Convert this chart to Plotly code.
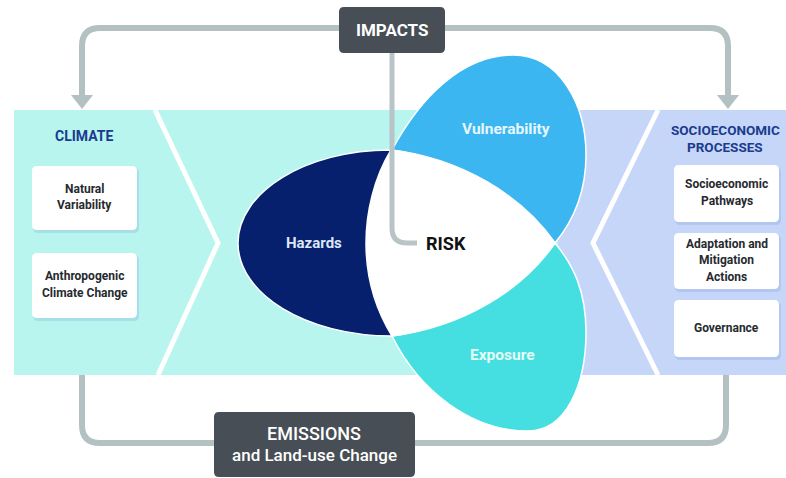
import plotly.graph_objects as go

# ---- diagram content ----
climate_title = "CLIMATE"
climate_boxes = ["Natural<br>Variability", "Anthropogenic<br>Climate Change"]
socio_title = "SOCIOECONOMIC<br>PROCESSES"
socio_boxes = ["Socioeconomic<br>Pathways", "Adaptation and<br>Mitigation<br>Actions", "Governance"]
petal_labels = ["Hazards", "Vulnerability", "Exposure"]
center_label = "RISK"
top_label = "IMPACTS"
bottom_label = ["EMISSIONS", "and Land-use Change"]

W, H = 786, 478
FONT = "Roboto"
CYAN_BAND = "#b8f5ef"
LAV_BAND = "#c6d6f8"
NAVY = "#06206e"
VULN = "#3bb6f1"
EXPO = "#45dfe1"
DARK = "#474e56"
ARROW = "#b3c1c2"

shapes = []


def add_path(path, fill=None, line_color=None, line_width=0):
    d = dict(type="path", path=path, xref="x", yref="y", layer="above")
    d["fillcolor"] = fill if fill else "rgba(0,0,0,0)"
    d["line"] = dict(color=line_color or "rgba(0,0,0,0)", width=line_width)
    shapes.append(d)


def rrect(x0, y0, x1, y1, r):
    return (f"M {x0+r},{y0} L {x1-r},{y0} Q {x1},{y0} {x1},{y0+r} "
            f"L {x1},{y1-r} Q {x1},{y1} {x1-r},{y1} L {x0+r},{y1} "
            f"Q {x0},{y1} {x0},{y1-r} L {x0},{y0+r} Q {x0},{y0} {x0+r},{y0} Z")


# ---- feedback arrows (drawn first, below bands) ----
add_path("M 82,97 L 82,46 Q 82,28 100,28 L 710,28 Q 728,28 728,46 L 728,97",
         line_color=ARROW, line_width=6)
add_path("M 71,95 L 93,95 L 82,109 Z", fill=ARROW)
add_path("M 717,95 L 739,95 L 728,109 Z", fill=ARROW)
add_path("M 82,332 L 82,425 Q 82,443 100,443 L 708,443 Q 726,443 726,425 L 726,372",
         line_color=ARROW, line_width=6)
add_path("M 71,335 L 93,335 L 82,320 Z", fill=ARROW)

# ---- background bands ----
add_path("M 14,110 L 560,110 L 560,375 L 14,375 Z", fill=CYAN_BAND)
add_path("M 558,110 L 786,110 L 786,375 L 558,375 Z", fill=LAV_BAND)
# chevrons
add_path("M 155,110 L 218,243 L 158,375", line_color="white", line_width=5)
add_path("M 658,110 L 593,243 L 658,375", line_color="white", line_width=5)

# ---- petals ----
add_path("M 392,150 C 420,98 462,55 513,55 C 560,55 586,105 586,155 "
         "C 586,192 574,220 555,243 C 520,195 460,160 392,150 Z",
         fill=VULN, line_color="white", line_width=1.5)
add_path("M 392,336 C 420,392 472,431 528,431 C 566,431 586,385 586,332 "
         "C 586,292 574,266 555,243 C 520,290 460,326 392,336 Z",
         fill=EXPO, line_color="white", line_width=1.5)
add_path("M 390,150 C 306,150 238,192 238,243 C 238,294 306,336 392,336 "
         "L 402,243 Z", fill=NAVY, line_color="white", line_width=1.5)
add_path("M 391,150 C 460,158 522,195 555,243 C 522,291 462,327 392,336 "
         "C 373,305 366,272 366,243 C 366,212 374,178 391,150 Z",
         fill="white", line_color="white", line_width=1.5)

# ---- IMPACTS connector ----
add_path("M 392,53 L 392,228 Q 392,243 407,243 L 417,243",
         line_color="#b8c4c5", line_width=5)

# ---- boxes ----
climate_rects = [(32, 166, 137, 230), (32, 253, 137, 318)]
socio_rects = [(674, 165, 779, 222), (674, 233, 779, 289), (674, 300, 779, 357)]
for (x0, y0, x1, y1) in climate_rects + socio_rects:
    add_path(rrect(x0 + 1, y0 + 2, x1 + 2, y1 + 3, 5), fill="rgba(90,130,200,0.18)")
    add_path(rrect(x0, y0, x1, y1, 5), fill="white")

add_path(rrect(339, 7, 445, 53, 5), fill=DARK)
add_path(rrect(214, 412, 415, 477, 5), fill=DARK)

# ---- texts ----
ann = []


def text(x, y, s, size, color, weight="bold"):
    ann.append(dict(x=x, y=y, xref="x", yref="y", text=s, showarrow=False,
                    xanchor="center", yanchor="middle",
                    font=dict(family=FONT, size=size, color=color, weight=weight)))


def box_text(cx, cy, label, size=12, spacing=16.5, color="#262a2e"):
    lines = label.split("<br>")
    n = len(lines)
    for i, ln in enumerate(lines):
        text(cx, cy + (i - (n - 1) / 2) * spacing, ln, size, color)


text(392, 30, top_label, 17, "white")
text(314, 433, bottom_label[0], 18, "white", weight=500)
text(314, 455, bottom_label[1], 17, "white", weight=500)

text(84, 136, climate_title, 14, "#1b3b8d")
box_text(725, 138, socio_title, size=13.5, spacing=17, color="#1b3b8d")

for (x0, y0, x1, y1), lab in zip(climate_rects, climate_boxes):
    box_text((x0 + x1) / 2, (y0 + y1) / 2 - 1, lab)
for (x0, y0, x1, y1), lab in zip(socio_rects, socio_boxes):
    box_text((x0 + x1) / 2, (y0 + y1) / 2 - 1, lab)

text(314, 243, petal_labels[0], 15, "#dbe6f7")
text(506, 129, petal_labels[1], 15.5, "#e6f6ff")
text(502, 355, petal_labels[2], 15.5, "#e4fbf6")
text(446, 243, center_label, 18, "#111111")

fig = go.Figure()
fig.add_trace(go.Scatter(x=[0, W], y=[0, H], mode="markers",
                         marker=dict(opacity=0), hoverinfo="skip", showlegend=False))
fig.update_layout(
    width=W, height=H,
    margin=dict(l=0, r=0, t=0, b=0),
    paper_bgcolor="white", plot_bgcolor="white",
    xaxis=dict(range=[0, W], visible=False, fixedrange=True),
    yaxis=dict(range=[H, 0], visible=False, fixedrange=True),
    shapes=shapes, annotations=ann, showlegend=False,
)
fig.write_html("out.html", config={"displayModeBar": False},
               post_script="document.body.style.margin='0';document.body.style.overflow='hidden';")
